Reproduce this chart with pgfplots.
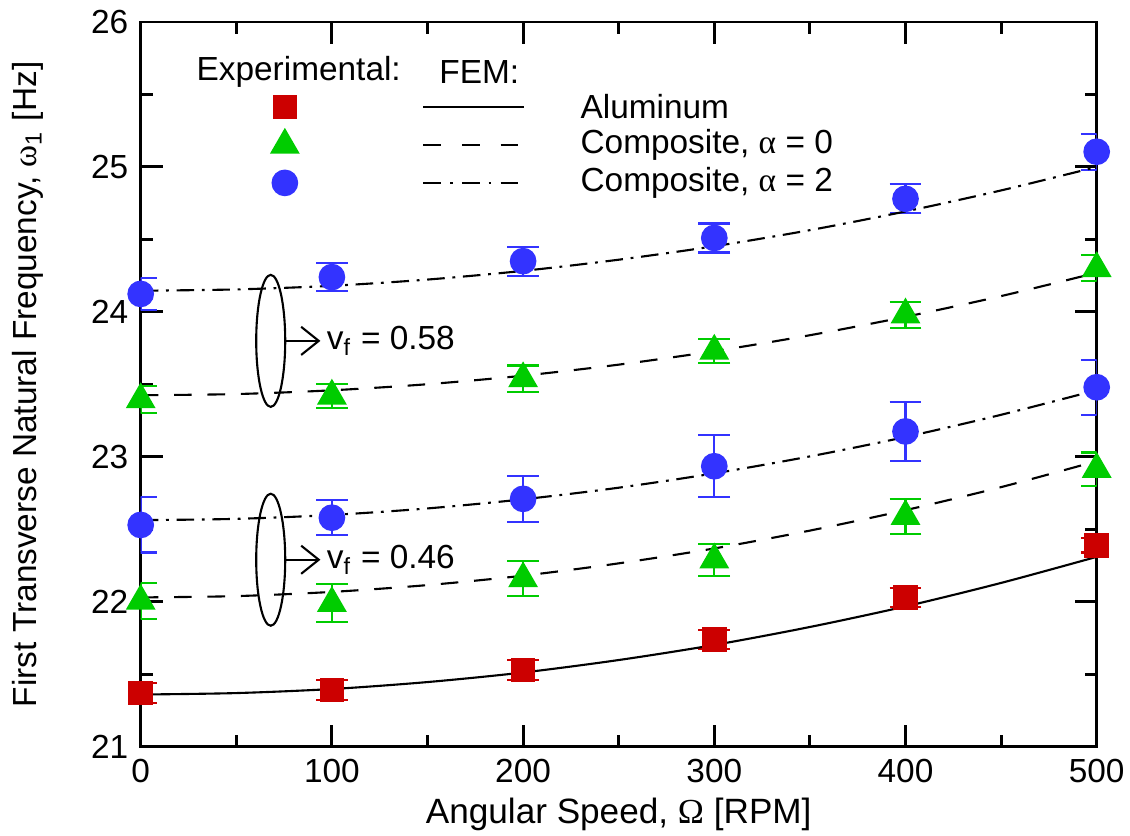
\documentclass[border=0pt]{standalone}
\usepackage{pgfplots}
\pgfplotsset{compat=1.18}
\usepackage{fontspec}
\setmainfont{Liberation Sans}
\newfontfamily\grk{Liberation Serif}
\usetikzlibrary{arrows.meta}
\definecolor{myred}{RGB}{204,0,0}
\definecolor{mygreen}{RGB}{0,204,0}
\definecolor{myblue}{RGB}{51,51,255}
\begin{document}
\begin{tikzpicture}
\path[use as bounding box] (-1.407,-0.883) rectangle (9.893,7.467);
\begin{axis}[
  at={(0,0)}, anchor=south west,
  scale only axis, width=9.56cm, height=7.247cm,
  xmin=0, xmax=500, ymin=21, ymax=26,
  xtick={0,100,...,500}, ytick={21,22,...,26},
  minor x tick num=1, minor y tick num=1,
  major tick length=0.22cm, minor tick length=0.12cm,
  axis line style={line width=0.85pt},
  every tick/.style={black, line width=0.85pt},
  /pgf/number format/assume math mode=true,
  tick label style={font=\fontsize{9.5}{11}\selectfont},
  xlabel={Angular Speed, {\grk Ω} [RPM]},
  ylabel={First Transverse Natural Frequency, {\grk ω}\textsubscript{1} [Hz]},
  xlabel style={font=\fontsize{10}{12}\selectfont, at={(axis description cs:0.5,-0.094)}, anchor=center},
  ylabel style={font=\fontsize{9.5}{11}\selectfont, at={(axis description cs:-0.118,0.5)}, anchor=center, rotate=0},
  clip=true,
]
% ---------- experimental data ----------
\addplot[only marks, mark=square*, mark size=3.3pt, color=myred,
  error bars/.cd, y dir=both, y explicit,
  error bar style={line width=0.6pt, myred},
  error mark options={rotate=90, mark size=4.5pt, line width=0.6pt, myred}]
  coordinates {(0,21.37) +- (0,0.07) (100,21.39) +- (0,0.07) (200,21.53) +- (0,0.07)
               (300,21.74) +- (0,0.065) (400,22.03) +- (0,0.065) (500,22.39) +- (0,0.05)};
\addplot[only marks, mark=triangle*, mark size=4.5pt, color=mygreen,
  error bars/.cd, y dir=both, y explicit,
  error bar style={line width=0.6pt, mygreen},
  error mark options={rotate=90, mark size=4.5pt, line width=0.6pt, mygreen}]
  coordinates {(0,23.395) +- (0,0.095) (100,23.42) +- (0,0.085) (200,23.54) +- (0,0.09)
               (300,23.73) +- (0,0.08) (400,23.98) +- (0,0.09) (500,24.30) +- (0,0.09)};
\addplot[only marks, mark=*, mark size=3.6pt, color=myblue,
  error bars/.cd, y dir=both, y explicit,
  error bar style={line width=0.6pt, myblue},
  error mark options={rotate=90, mark size=4.5pt, line width=0.6pt, myblue}]
  coordinates {(0,24.124) +- (0,0.11) (100,24.24) +- (0,0.095) (200,24.35) +- (0,0.10)
               (300,24.51) +- (0,0.10) (400,24.78) +- (0,0.10) (500,25.105) +- (0,0.125)};
\addplot[only marks, mark=triangle*, mark size=4.5pt, color=mygreen,
  error bars/.cd, y dir=both, y explicit,
  error bar style={line width=0.6pt, mygreen},
  error mark options={rotate=90, mark size=4.5pt, line width=0.6pt, mygreen}]
  coordinates {(0,22.005) +- (0,0.125) (100,21.99) +- (0,0.13) (200,22.16) +- (0,0.12)
               (300,22.29) +- (0,0.11) (400,22.59) +- (0,0.12) (500,22.915) +- (0,0.115)};
\addplot[only marks, mark=*, mark size=3.6pt, color=myblue,
  error bars/.cd, y dir=both, y explicit,
  error bar style={line width=0.6pt, myblue},
  error mark options={rotate=90, mark size=4.5pt, line width=0.6pt, myblue}]
  coordinates {(0,22.53) +- (0,0.19) (100,22.58) +- (0,0.12) (200,22.71) +- (0,0.16)
               (300,22.935) +- (0,0.215) (400,23.175) +- (0,0.205) (500,23.48) +- (0,0.19)};
% ---------- FEM curves ----------
\addplot[black, line width=0.6pt, smooth] coordinates {
 (0,21.360) (50,21.370) (100,21.398) (150,21.446) (200,21.512) (250,21.598)
 (300,21.702) (350,21.826) (400,21.968) (450,22.130) (500,22.310)};
\addplot[black, line width=0.6pt, smooth, dash pattern=on 5pt off 4.5pt] coordinates {
 (0,23.425) (50,23.433) (100,23.459) (150,23.501) (200,23.560) (250,23.636)
 (300,23.729) (350,23.839) (400,23.966) (450,24.109) (500,24.270)};
\addplot[black, line width=0.6pt, smooth, dash pattern=on 5pt off 2.2pt on 0.8pt off 2.2pt] coordinates {
 (0,24.146) (50,24.155) (100,24.180) (150,24.223) (200,24.283) (250,24.360)
 (300,24.453) (350,24.564) (400,24.693) (450,24.838) (500,25.000)};
\addplot[black, line width=0.6pt, smooth, dash pattern=on 5pt off 4.5pt] coordinates {
 (0,22.030) (50,22.039) (100,22.068) (150,22.115) (200,22.180) (250,22.265)
 (300,22.368) (350,22.491) (400,22.632) (450,22.791) (500,22.970)};
\addplot[black, line width=0.6pt, smooth, dash pattern=on 5pt off 2.2pt on 0.8pt off 2.2pt] coordinates {
 (0,22.563) (50,22.572) (100,22.599) (150,22.644) (200,22.707) (250,22.787)
 (300,22.886) (350,23.003) (400,23.137) (450,23.290) (500,23.460)};
% ---------- legend (drawn in the axis) ----------
\addplot[only marks, mark=square*, mark size=3.3pt, color=myred] coordinates {(75.4,25.414)};
\addplot[only marks, mark=triangle*, mark size=4.5pt, color=mygreen] coordinates {(75.4,25.151)};
\addplot[only marks, mark=*, mark size=3.6pt, color=myblue] coordinates {(75.4,24.89)};
\addplot[black, line width=0.6pt] coordinates {(147.8,25.414) (200.4,25.414)};
\addplot[black, line width=0.6pt, dash pattern=on 5pt off 6pt] coordinates {(147.8,25.151) (200.4,25.151)};
\addplot[black, line width=0.6pt, dash pattern=on 5pt off 2.6pt on 0.8pt off 2.6pt] coordinates {(147.8,24.89) (200.4,24.89)};
\node[anchor=west, inner sep=0pt, font=\fontsize{9.5}{11}\selectfont] at (axis cs:28.9,25.655) {Experimental:};
\node[anchor=west, inner sep=0pt, font=\fontsize{9.5}{11}\selectfont] at (axis cs:155.9,25.655) {FEM:};
\node[anchor=west, inner sep=0pt, font=\fontsize{9.5}{11}\selectfont] at (axis cs:229.7,25.414) {Aluminum};
\node[anchor=west, inner sep=0pt, font=\fontsize{9.5}{11}\selectfont] at (axis cs:229.7,25.151) {Composite, {\grk α} = 0};
\node[anchor=west, inner sep=0pt, font=\fontsize{9.5}{11}\selectfont] at (axis cs:229.7,24.89) {Composite, {\grk α} = 2};
% ---------- annotations ----------
\draw[line width=0.6pt] (axis cs:68,23.80) ellipse [x radius=0.145cm, y radius=0.66cm];
\draw[line width=0.6pt, -{Straight Barb[length=5pt,width=8pt]}] (axis cs:75.6,23.80) -- (axis cs:94,23.80);
\node[anchor=west, inner sep=0pt, font=\fontsize{9.5}{11}\selectfont] at (axis cs:97,23.80) {v\textsubscript{f} = 0.58};
\draw[line width=0.6pt] (axis cs:68,22.29) ellipse [x radius=0.145cm, y radius=0.66cm];
\draw[line width=0.6pt, -{Straight Barb[length=5pt,width=8pt]}] (axis cs:75.6,22.29) -- (axis cs:94,22.29);
\node[anchor=west, inner sep=0pt, font=\fontsize{9.5}{11}\selectfont] at (axis cs:97,22.29) {v\textsubscript{f} = 0.46};
\end{axis}
\end{tikzpicture}
\end{document}
